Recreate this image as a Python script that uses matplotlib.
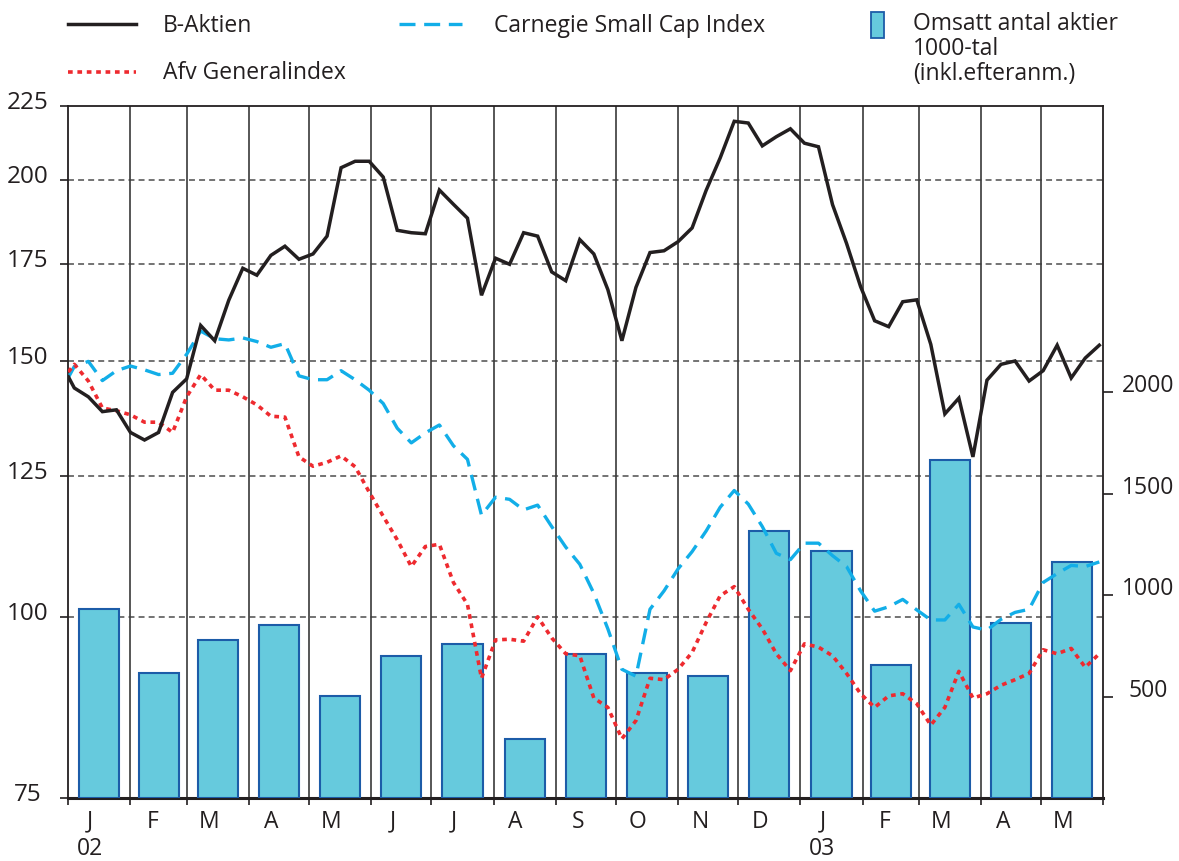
import numpy as np
import pandas as pd
import matplotlib
matplotlib.use("Agg")
import matplotlib.pyplot as plt
from matplotlib.lines import Line2D
from matplotlib.patches import Rectangle
from matplotlib.transforms import ScaledTranslation, blended_transform_factory
from matplotlib.ticker import NullLocator, FixedLocator, FixedFormatter

plt.rcParams['font.family'] = ['Open Sans', 'DejaVu Sans']

# ---------------- data ----------------
first_date = "2002-01-01"
week_start = "2002-01-04"          # weekly (Friday) observations
n_weeks = 74

b_aktien = [146.4,
            143.8, 141.8, 138.5, 138.9, 134.0, 132.4, 134.0, 142.8, 145.9, 158.8,
            155.0, 165.3, 173.9, 172.0, 177.5, 180.1, 176.4, 177.9, 183.0, 204.0,
            206.1, 206.1, 201.0, 184.7, 184.0, 183.7, 196.9, 192.5, 188.3, 166.6,
            176.7, 175.0, 184.0, 183.0, 172.9, 170.5, 182.0, 177.9, 168.1, 155.0,
            168.7, 178.3, 178.8, 181.4, 185.4, 196.8, 207.2, 219.6, 219.0, 211.2,
            214.3, 217.0, 212.1, 210.9, 192.4, 180.9, 168.9, 160.0, 158.5, 164.9,
            165.4, 154.1, 138.0, 141.5, 128.9, 145.6, 149.3, 150.1, 145.4, 147.8,
            153.9, 146.1, 150.8, 153.9]

carnegie = [146.2,
            148.8, 150.0, 145.5, 147.8, 148.9, 148.0, 146.9, 147.2, 151.7, 157.4,
            155.5, 155.2, 155.7, 154.8, 153.4, 154.3, 146.6, 145.7, 145.7, 147.8,
            145.7, 143.3, 140.3, 134.9, 131.8, 133.9, 135.6, 131.2, 128.4, 117.5,
            120.9, 120.5, 118.5, 119.4, 115.4, 111.7, 108.7, 103.8, 98.1, 92.0,
            91.0, 101.2, 104.2, 107.9, 110.9, 114.6, 119.0, 122.2, 119.6, 115.4,
            110.6, 109.5, 112.4, 112.4, 110.2, 108.3, 104.2, 100.9, 101.6, 102.8,
            101.1, 99.5, 99.5, 102.0, 98.4, 97.9, 99.6, 100.7, 101.2, 105.6,
            107.1, 108.5, 108.3, 109.1]

afv_general = [147.5,
               149.3, 145.4, 139.3, 138.7, 137.8, 136.2, 136.2, 134.0, 141.8, 146.9,
               143.3, 143.3, 141.8, 140.0, 137.5, 137.3, 128.9, 127.0, 127.8, 129.1,
               126.9, 121.9, 117.3, 113.0, 108.3, 111.8, 112.2, 105.6, 102.0, 90.7,
               96.4, 96.5, 96.2, 100.0, 96.7, 94.3, 94.0, 87.9, 86.6, 82.4,
               84.8, 90.7, 90.5, 92.0, 94.5, 99.1, 103.4, 104.9, 101.2, 98.1,
               94.3, 91.8, 95.8, 95.3, 94.0, 91.4, 88.5, 86.6, 88.2, 88.5,
               87.1, 84.2, 86.6, 91.7, 87.9, 88.5, 89.7, 90.5, 91.4, 94.9,
               94.3, 95.1, 92.3, 94.3]

# monthly turnover, thousands of shares (right axis)
volume = [930, 618, 781, 853, 504, 700, 759, 289, 711, 614, 599, 1317,
          1219, 656, 1667, 862, 1162]

month_labels = ["J", "F", "M", "A", "M", "J", "J", "A", "S", "O", "N", "D",
                "J", "F", "M", "A", "M"]
year_labels = {0: "02", 12: "03"}

left_ticks = [75, 100, 125, 150, 175, 200, 225]
right_ticks = [500, 1000, 1500, 2000]
grid_levels = [100, 125, 150, 175, 200]

legend_labels = ["B-Aktien", "Afv Generalindex", "Carnegie Small Cap Index",
                 ["Omsatt antal aktier", "1000-tal", "(inkl.efteranm.)"]]

# ---------------- derived ----------------
dates = [pd.Timestamp(first_date)] + list(pd.date_range(week_start, periods=n_weeks, freq="7D"))
month_starts = pd.date_range("2002-01-01", periods=len(volume) + 1, freq="MS")
month_mids = [month_starts[i] + (month_starts[i + 1] - month_starts[i]) / 2 for i in range(len(volume))]
label_pos = [m + pd.Timedelta(days=11) for m in month_starts[:-1]]

# ---------------- figure ----------------
W, H = 1179, 861
fig = plt.figure(figsize=(W / 100, H / 100), dpi=100)
pos = [68.3 / W, 1 - 798 / H, (1103.3 - 68.3) / W, (798 - 106) / H]

BLACK = "#231f20"
RED = "#ee2a2f"
BLUE = "#12aee8"
BAR_FC = "#66cadd"
BAR_EC = "#1c5ca8"
FS = 16.5

# base axes: grid, left scale, month ticks
ax = fig.add_axes(pos)
ax.set_yscale("log")
ax.set_ylim(75, 225)
ax.set_xlim(month_starts[0], month_starts[-1])
ax.set_zorder(1)

for v in grid_levels:
    ax.axhline(v, color="#4d4d4d", lw=1.1, ls=(0, (3.9, 2.7)), zorder=1)
for ms in month_starts[1:-1]:
    ax.axvline(ms, color="#3a3a3a", lw=1.2, zorder=1)

ax.yaxis.set_major_locator(FixedLocator(left_ticks))
ax.yaxis.set_major_formatter(FixedFormatter([str(t) for t in left_ticks]))
ax.yaxis.set_minor_locator(NullLocator())
ax.tick_params(axis="y", which="major", direction="out", length=6, width=1.2,
               pad=23.6, labelsize=17.5, colors=BLACK)

ax.xaxis.set_major_locator(FixedLocator([matplotlib.dates.date2num(d) for d in month_starts]))
ax.xaxis.set_major_formatter(FixedFormatter([""] * len(month_starts)))
ax.xaxis.set_minor_locator(FixedLocator([matplotlib.dates.date2num(d) for d in label_pos]))
ax.xaxis.set_minor_formatter(FixedFormatter(month_labels))
ax.tick_params(axis="x", which="major", direction="out", length=5, width=1.2, colors=BLACK)
ax.tick_params(axis="x", which="minor", length=0, pad=8.5, labelsize=FS, colors=BLACK)

for sp in ["left", "top", "right"]:
    ax.spines[sp].set_linewidth(1.3)
    ax.spines[sp].set_color(BLACK)
ax.spines["bottom"].set_linewidth(2.2)
ax.spines["bottom"].set_color(BLACK)

for lbl in ax.get_yticklabels():
    lbl.set_horizontalalignment("center")
    lbl.set_transform(lbl.get_transform() + ScaledTranslation(0, 6 / 100, fig.dpi_scale_trans))

# year labels under January
trans = blended_transform_factory(ax.transData, ax.transAxes)
for i, y in year_labels.items():
    ax.text(label_pos[i], -(849 - 798) / (798 - 106), y, transform=trans,
            ha="center", va="center", fontsize=FS, color=BLACK)

# bar axes (right scale)
ax2 = ax.twinx()
ax2.set_zorder(2)
ax2.patch.set_visible(False)
ax2.set_ylim(0, 3410)
ax2.bar(month_mids, volume, width=20, color=BAR_FC, edgecolor=BAR_EC, linewidth=1.5, zorder=2)
ax2.yaxis.set_major_locator(FixedLocator(right_ticks))
ax2.yaxis.set_major_formatter(FixedFormatter([str(t) for t in right_ticks]))
ax2.yaxis.set_minor_locator(NullLocator())
ax2.tick_params(axis="y", direction="out", length=7, width=1.2, pad=25.5,
                labelsize=FS, colors=BLACK)
for sp in ax2.spines.values():
    sp.set_visible(False)
for lbl in ax2.get_yticklabels():
    lbl.set_horizontalalignment("center")
    lbl.set_transform(lbl.get_transform() + ScaledTranslation(0, 9 / 100, fig.dpi_scale_trans))

# line axes on top
ax3 = fig.add_axes(pos, sharex=ax)
ax3.set_zorder(3)
ax3.set_yscale("log")
ax3.set_ylim(75, 225)
ax3.axis("off")
ax3.plot(dates, carnegie, color=BLUE, lw=2.4, ls=(0, (4.8, 2.6)), dash_capstyle="butt")
ax3.plot(dates, afv_general, color=RED, lw=2.6, ls=(0, (1.3, 1.3)), dash_capstyle="butt")
ax3.plot(dates, b_aktien, color=BLACK, lw=2.5, solid_joinstyle="miter")

# ---------------- legend ----------------
def fx(px):
    return px / W

def fy(py):
    return 1 - py / H

fig.add_artist(Line2D([fx(68), fx(136)], [fy(24), fy(24)], color=BLACK, lw=2.5))
fig.text(fx(163), fy(32), legend_labels[0], fontsize=FS, color=BLACK, va="baseline")
fig.add_artist(Line2D([fx(68), fx(136)], [fy(72), fy(72)], color=RED, lw=2.6,
                      ls=(0, (1.3, 1.3)), dash_capstyle="butt"))
fig.text(fx(163), fy(79), legend_labels[1], fontsize=FS, color=BLACK, va="baseline")
fig.add_artist(Line2D([fx(399), fx(462)], [fy(24), fy(24)], color=BLUE, lw=2.4,
                      ls=(0, (4.8, 2.6)), dash_capstyle="butt"))
fig.text(fx(494), fy(32), legend_labels[2], fontsize=FS, color=BLACK, va="baseline")
fig.add_artist(Rectangle((fx(871), fy(38)), 13 / W, 26 / H, transform=fig.transFigure,
                         facecolor=BAR_FC, edgecolor=BAR_EC, lw=1.3))
for i, t in enumerate(legend_labels[3]):
    fig.text(fx(913), fy(30 + 25 * i), t, fontsize=FS, color=BLACK, va="baseline")

fig.savefig("out.png", dpi=100)
